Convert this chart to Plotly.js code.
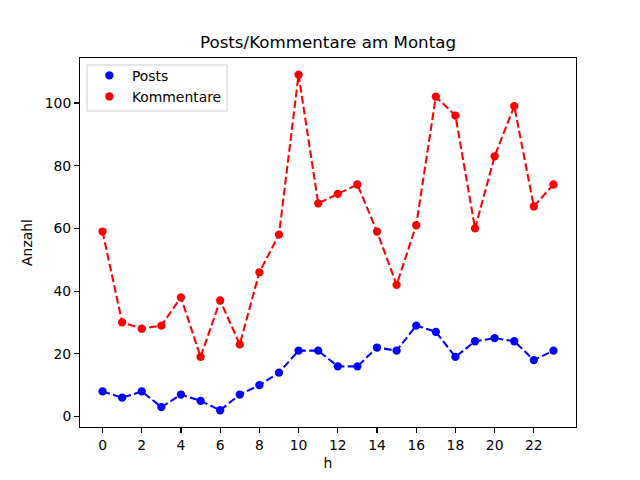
<!DOCTYPE html>
<html>
<head>
<meta charset="utf-8">
<script src="https://cdn.plot.ly/plotly-3.0.1.min.js"></script>
<style>html,body{margin:0;padding:0;background:#fff}#chart{width:640px;height:480px}</style>
</head>
<body>
<div id="chart"></div>
<script>
const hours = [0,1,2,3,4,5,6,7,8,9,10,11,12,13,14,15,16,17,18,19,20,21,22,23];
const posts = [8,6,8,3,7,5,2,7,10,14,21,21,16,16,22,21,29,27,19,24,25,24,18,21];
const kommentare = [59,30,28,29,38,19,37,23,46,58,109,68,71,74,59,42,61,102,96,60,83,99,67,74];
const seriesNames = ['Posts', 'Kommentare'];
const xTicks = [0,2,4,6,8,10,12,14,16,18,20,22];
const yTicks = [0,20,40,60,80,100];

const font = {family: 'DejaVu Sans', size: 13.9, color: '#000'};
const dash = '7.7px,3.3px';
const colors = ['#0000ff', '#ff0000'];

const traces = [
  {x: hours, y: posts, name: seriesNames[0], mode: 'lines+markers', showlegend: false,
   line: {color: colors[0], width: 2.08, dash: dash},
   marker: {color: colors[0], size: 8.3}},
  {x: hours, y: kommentare, name: seriesNames[1], mode: 'lines+markers', showlegend: false,
   line: {color: colors[1], width: 2.08, dash: dash},
   marker: {color: colors[1], size: 8.3}},
  // legend entries (markers only, as in the reference)
  {x: [null], y: [null], name: seriesNames[0], mode: 'markers', marker: {color: colors[0], size: 8.3}},
  {x: [null], y: [null], name: seriesNames[1], mode: 'markers', marker: {color: colors[1], size: 8.3}}
];

const axisCommon = {
  showgrid: false, zeroline: false, showline: true, mirror: true,
  linecolor: '#000', linewidth: 1.1, ticks: 'outside', ticklen: 4.9,
  tickwidth: 1.1, tickcolor: '#000', tickfont: font
};

const layout = {
  width: 640, height: 480,
  margin: {l: 80, r: 64, t: 58, b: 53},
  paper_bgcolor: '#fff', plot_bgcolor: '#fff',
  font: font,
  title: {text: 'Posts/Kommentare am Montag', font: {family: 'DejaVu Sans', size: 16.7, color: '#000'},
          x: 0.5, xref: 'paper', y: 1, yref: 'paper', yanchor: 'bottom', pad: {b: 10}},
  xaxis: Object.assign({}, axisCommon, {range: [-1.15, 24.15], tickvals: xTicks,
          title: {text: 'h', font: font, standoff: 6}}),
  yaxis: Object.assign({}, axisCommon, {range: [-3.35, 114.35], tickvals: yTicks,
          title: {text: 'Anzahl', font: font, standoff: 8}}),
  shapes: [{type: 'rect', xref: 'paper', yref: 'paper', x0: 0.0141, x1: 0.2964, y0: 0.8564, y1: 0.981,
            fillcolor: 'rgba(255,255,255,0.8)', line: {color: '#cccccc', width: 1}, layer: 'above'}],
  legend: {x: 0.0139, y: 0.995, xanchor: 'left', yanchor: 'top',
           bgcolor: 'rgba(0,0,0,0)', borderwidth: 0,
           font: font, itemwidth: 35},
  showlegend: true
};

Plotly.newPlot('chart', traces, layout, {staticPlot: true, displayModeBar: false});
</script>
</body>
</html>
